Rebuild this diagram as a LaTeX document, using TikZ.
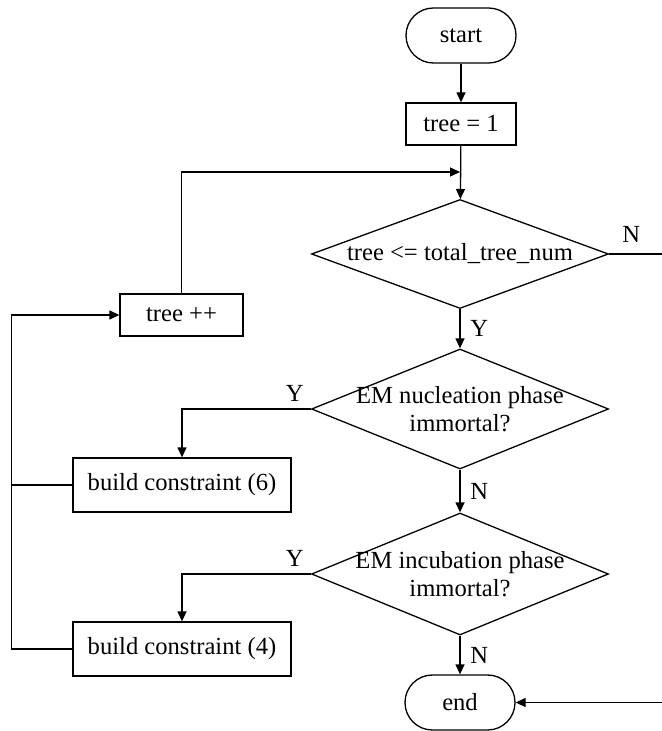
\documentclass[tikz,border=0pt]{standalone}
\usepackage{fontspec}
\setmainfont{Liberation Serif}
\usepackage{tikz}
\usetikzlibrary{shapes.geometric,arrows.meta,positioning}

\tikzset{
    terminal/.style={draw, rounded corners=13.7pt, minimum width=55pt, minimum height=27.5pt, inner sep=0pt},
    process/.style={draw, minimum height=21pt, inner sep=0pt},
    decision/.style={draw, diamond, inner sep=0pt, minimum width=148.5pt, minimum height=#1},
    flow/.style={-{Triangle[length=5pt,width=4.5pt]}},
}

\begin{document}
\begin{tikzpicture}[x=0.5pt, y=-0.5pt, line width=0.65pt,
    every node/.append style={font=\fontsize{12.3}{14}\selectfont}]
    \useasboundingbox (0,0) rectangle (661,731);

    % main column
    \node[terminal] (start) at (461,35.5) {start};
    \node[process, minimum width=55pt] (init) at (461,124) {tree = 1};
    \node[decision=54.5pt, label=center:{tree <= total\_tree\_num}] (cond1) at (460,254) {};
    \node[decision=60pt, label={[align=center]center:EM nucleation phase\\immortal?}] (cond2) at (460,409) {};
    \node[decision=61pt, label={[align=center]center:EM incubation phase\\immortal?}] (cond3) at (460,574) {};
    \node[terminal] (end) at (460,702.5) {end};

    % left column
    \node[process, minimum width=61.5pt] (inc) at (181.5,315) {tree ++};
    \node[process, minimum width=109pt, minimum height=27pt] (build6) at (182,485) {build constraint (6)};
    \node[process, minimum width=109pt, minimum height=27pt] (build4) at (182,649) {build constraint (4)};
    \coordinate (merge) at (460,172);

    % connectors
    \draw[flow] (start) -- (init);
    \draw[flow] (init) -- (cond1);
    \draw[flow] (cond1) -- node[right=1.5pt] {Y} (cond2);
    \draw[flow] (cond2) -- node[right=1.5pt] {N} (cond3);
    \draw[flow] (cond3) -- node[right=1.5pt] {N} (end);
    \draw[flow] (cond2.west) node[above left] {Y} -| (build6.north);
    \draw[flow] (cond3.west) node[above left] {Y} -| (build4.north);
    \draw[flow] (cond1.east) node[above right, xshift=3pt, yshift=2pt] {N} -- ++(80,0) coordinate (exit) |- (end.east);

    % loop back
    \draw[flow] (build4.west) -- ++(-61,0) coordinate (corner) |- (inc.west);
    \draw (build6.west) -- (build6.west -| corner);
    \draw[flow] (inc.north) |- (merge);
\end{tikzpicture}
\end{document}
